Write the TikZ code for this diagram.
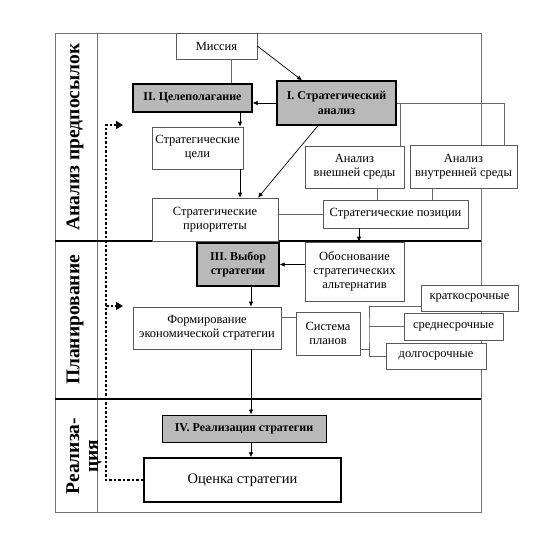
\documentclass[tikz,border=0pt]{standalone}
\usepackage{fontspec}
\setmainfont{Liberation Serif}
\usetikzlibrary{arrows.meta,positioning}

\begin{document}
\begin{tikzpicture}[x=1pt, y=-1pt,
    every node/.style={align=center, inner sep=1pt},
    box/.style={draw=black!65, line width=0.6pt, fill=white, font=\fontsize{12.5}{14}\selectfont},
    keybox/.style={draw=black, line width=1.3pt, fill=gray!55, font=\fontsize{12}{14.5}\selectfont\bfseries},
    arr/.style={draw=black, line width=0.7pt, -{Latex[length=5pt,width=4.5pt]}},
    link/.style={draw=black!60, line width=0.6pt},
    fb/.style={line width=2.5pt, dash pattern=on 2.5pt off 2pt, -{Triangle[length=7pt,width=8pt]}},
    sidelabel/.style={rotate=90, font=\fontsize{19.5}{19}\selectfont\bfseries}]
    \useasboundingbox (0,0) rectangle (547,539);

    % frame and phase bands
    \draw[black!55, line width=0.8pt] (55,33) rectangle (481,512);
    \draw[black!55, line width=0.8pt] (97,33) -- (97,512);
    \draw[black, line width=1.2pt] (55,241) -- (481,241);
    \draw[black, line width=1.2pt] (55,399) -- (481,399);
    \node[sidelabel] (band1) at (75,137) {Анализ предпосылок};
    \node[sidelabel] (band2) at (75,320) {Планирование};
    \node[sidelabel] (band3) at (84,456) {Реализа-\\ция};

    % boxes
    \node[box, minimum width=81pt, minimum height=26pt] (mission) at (216.5,46) {Миссия};
    \node[keybox, minimum width=119pt, minimum height=28pt] (goalset) at (192.5,98) {II. Целеполагание};
    \node[keybox, minimum width=119pt, minimum height=44pt] (analysis) at (336.5,103) {I. Стратегический\\анализ};
    \node[box, minimum width=91pt, minimum height=42pt] (goals) at (197.5,148) {Стратегические\\цели};
    \node[box, minimum width=99pt, minimum height=42pt] (extenv) at (354.5,167) {Анализ\\внешней среды};
    \node[box, minimum width=107pt, minimum height=43pt] (intenv) at (463.5,166.5) {Анализ\\внутренней среды};
    \node[box, minimum width=126pt, minimum height=43pt] (priorities) at (215,219.5) {Стратегические\\приоритеты};
    \node[box, minimum width=145pt, minimum height=28pt] (positions) at (395.5,214) {Стратегические позиции};
    \node[keybox, minimum width=82pt, minimum height=43pt] (choice) at (238,264.5) {III. Выбор\\стратегии};
    \node[box, minimum width=99pt, minimum height=59pt] (alternatives) at (354.5,271.5) {Обоснование\\стратегических\\альтернатив};
    \node[box, minimum width=148pt, minimum height=42pt] (forming) at (207,328) {Формирование\\экономической стратегии};
    \node[box, minimum width=64pt, minimum height=43pt] (plans) at (328,333.5) {Система\\планов};
    \node[box, minimum width=97pt, minimum height=26pt] (shortterm) at (469.5,298) {краткосрочные};
    \node[box, minimum width=99pt, minimum height=27pt] (midterm) at (453.5,326.5) {среднесрочные};
    \node[box, minimum width=100pt, minimum height=26pt] (longterm) at (436,356) {долгосрочные};
    \node[keybox, line width=1pt, minimum width=164pt, minimum height=27pt] (realization) at (244,428.5) {IV. Реализация стратегии};
    \node[box, draw=black, line width=1.4pt, minimum width=197pt, minimum height=44pt, font=\fontsize{14.5}{16}\selectfont] (evaluation) at (242.5,480) {Оценка стратегии};

    \coordinate (bkt) at (369,330);
    \coordinate (fbtop) at (106,125);
    \coordinate (fbmid) at (106,306);
    \coordinate (toptip) at (123,125);
    \coordinate (midtip) at (123,306);

    % connectors
    \draw[arr] (mission.east) -- ([xshift=-34.5pt]analysis.north);
    \draw[link] ([xshift=14.5pt]mission.south) -- ([xshift=14.5pt]mission.south |- goalset.north);
    \draw[arr] (analysis.west) -- (analysis.west -| goalset.east);
    \draw[arr] ([xshift=47.5pt]goalset.south) -- ([xshift=47.5pt]goalset.south |- goals.north);
    \draw[arr] ([xshift=42.5pt]goals.south) -- ([xshift=42.5pt]goals.south |- priorities.north);
    \draw[arr] ([xshift=-18.5pt]analysis.south) -- ([xshift=43pt]priorities.north);
    \draw[link] (analysis.east) -| ([xshift=40.5pt]intenv.north);
    \draw[link] ([xshift=45.5pt]extenv.north) -- ([xshift=45.5pt]extenv.north |- analysis.east);
    \draw[link] ([xshift=22.5pt]extenv.south) -- ([xshift=22.5pt]extenv.south |- positions.north);
    \draw[link] ([xshift=-31.5pt]intenv.south) -- ([xshift=-31.5pt]intenv.south |- positions.north);
    \draw[link] (positions.west) -- (positions.west -| priorities.east);
    \draw[arr] ([xshift=-36.5pt]positions.south) -- ([xshift=-36.5pt]positions.south |- alternatives.north);
    \draw[arr] (alternatives.west |- choice.east) -- (choice.east);
    \draw[arr] ([xshift=13pt]choice.south) -- ([xshift=13pt]choice.south |- forming.north);
    \draw[link] ([yshift=11pt]forming.east) -- ([yshift=11pt]forming.east -| plans.west);
    \draw[link] ([yshift=-15.5pt]plans.east) -- ([yshift=-15.5pt]plans.east -| bkt);
    \draw[link] ([yshift=-8pt]shortterm.west) -| (bkt) |- (longterm.west);
    \draw[link] (bkt |- midterm.west) -- (midterm.west);
    \draw[arr] ([xshift=44pt]forming.south) -- ([xshift=44pt]forming.south |- realization.north);
    \draw[arr] ([xshift=7pt]realization.south) -- ([xshift=7pt]realization.south |- evaluation.north);

    % feedback loop
    \draw[fb] (evaluation.west) -| (fbtop) -- (toptip);
    \draw[fb] (fbmid) -- (midtip);
\end{tikzpicture}
\end{document}
